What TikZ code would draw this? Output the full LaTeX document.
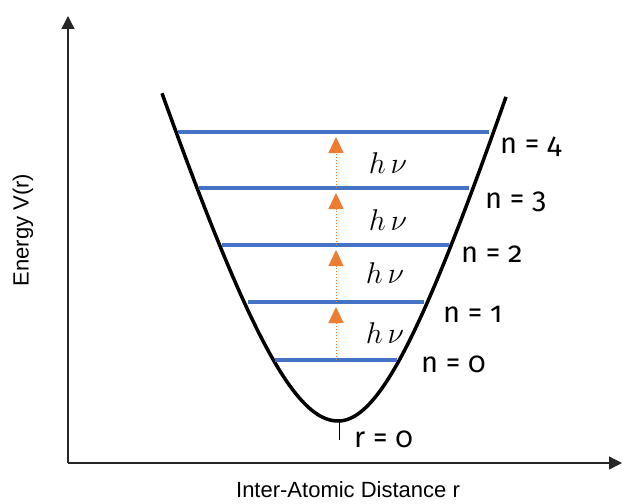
\documentclass[tikz,border=0pt]{standalone}
\usepackage{fix-cm}
\usepackage{fontspec}
\setmainfont{Liberation Sans}
\newfontfamily\levelfont[Numbers=OldStyle]{Fira Sans}
\usetikzlibrary{arrows.meta}
\definecolor{LevelBlue}{HTML}{4472C4}
\definecolor{PhotonOrange}{HTML}{ED7D31}

\begin{document}
\begin{tikzpicture}[
    x=1pt, y=-1pt,
    axis/.style={line width=1.3pt, draw=black!85, -{Triangle[width=13pt,length=13pt]}},
    potential/.style={line width=3.5pt, line join=round},
    level/.style={line width=4pt, draw=LevelBlue},
    photon/.style={line width=1pt, draw=PhotonOrange, dotted, -{Triangle[width=15pt,length=16pt,fill=PhotonOrange]}},
    quantum/.style={font=\fontsize{29}{30}\selectfont\levelfont, anchor=base west, inner sep=0pt},
    energy/.style={font=\fontsize{30}{32}\selectfont, inner sep=0pt}
  ]
      \useasboundingbox (0,0) rectangle (623,503);

      \coordinate (origin) at (68,463);
      \coordinate (ytop) at (68,16);
      \coordinate (xend) at (622,463);
      \draw[axis] (origin) -- (ytop);
      \draw[axis] (origin) -- (xend);

      \node[rotate=90, font=\fontsize{22}{24}\selectfont] (ylabel) at (23,230) {Energy V(r)};
      \node[anchor=base, font=\fontsize{22}{24}\selectfont, inner sep=0pt] (xlabel) at (348,497) {Inter-Atomic Distance r};

      \draw[potential]
        plot[domain=162:338, samples=80] (\x, {421 - 320*(sqrt(1+((\x-338)/100)^2)-1)})
        -- plot[domain=338:506, samples=80] (\x, {421 - 290*(sqrt(1+((\x-338)/90)^2)-1)});

      \coordinate (rmin) at (339,422);
      \draw[line width=0.8pt] (rmin) -- ++(0,18);
      \node[quantum] (rzero) at (354,447) {r = 0};

      \foreach \i/\y/\xl/\xr/\lx/\ly in {0/360/275/397/421/372, 1/302/248/424/443/322, 2/245/222/449/461/262, 3/188/199/469/485/208, 4/132/178/489/500/153} {
        \coordinate (L\i) at (\xl,\y);
        \coordinate (R\i) at (\xr,\y);
        \draw[level] (L\i) -- (R\i);
        \node[quantum] (n\i) at (\lx,\ly) {n = \i};
      }

      \foreach \i/\j/\hx/\hy in {0/1/385/333, 1/2/385/273, 2/3/388/220, 3/4/388/163} {
        \coordinate (A\i) at (336,0 |- L\i);
        \coordinate (B\i) at ([yshift=-5pt]336,0 |- L\j);
        \draw[photon] (A\i) -- (B\i);
        \node[energy] (hv\i) at (\hx,\hy) {$h\,\nu$};
      }
    \end{tikzpicture}
\end{document}
